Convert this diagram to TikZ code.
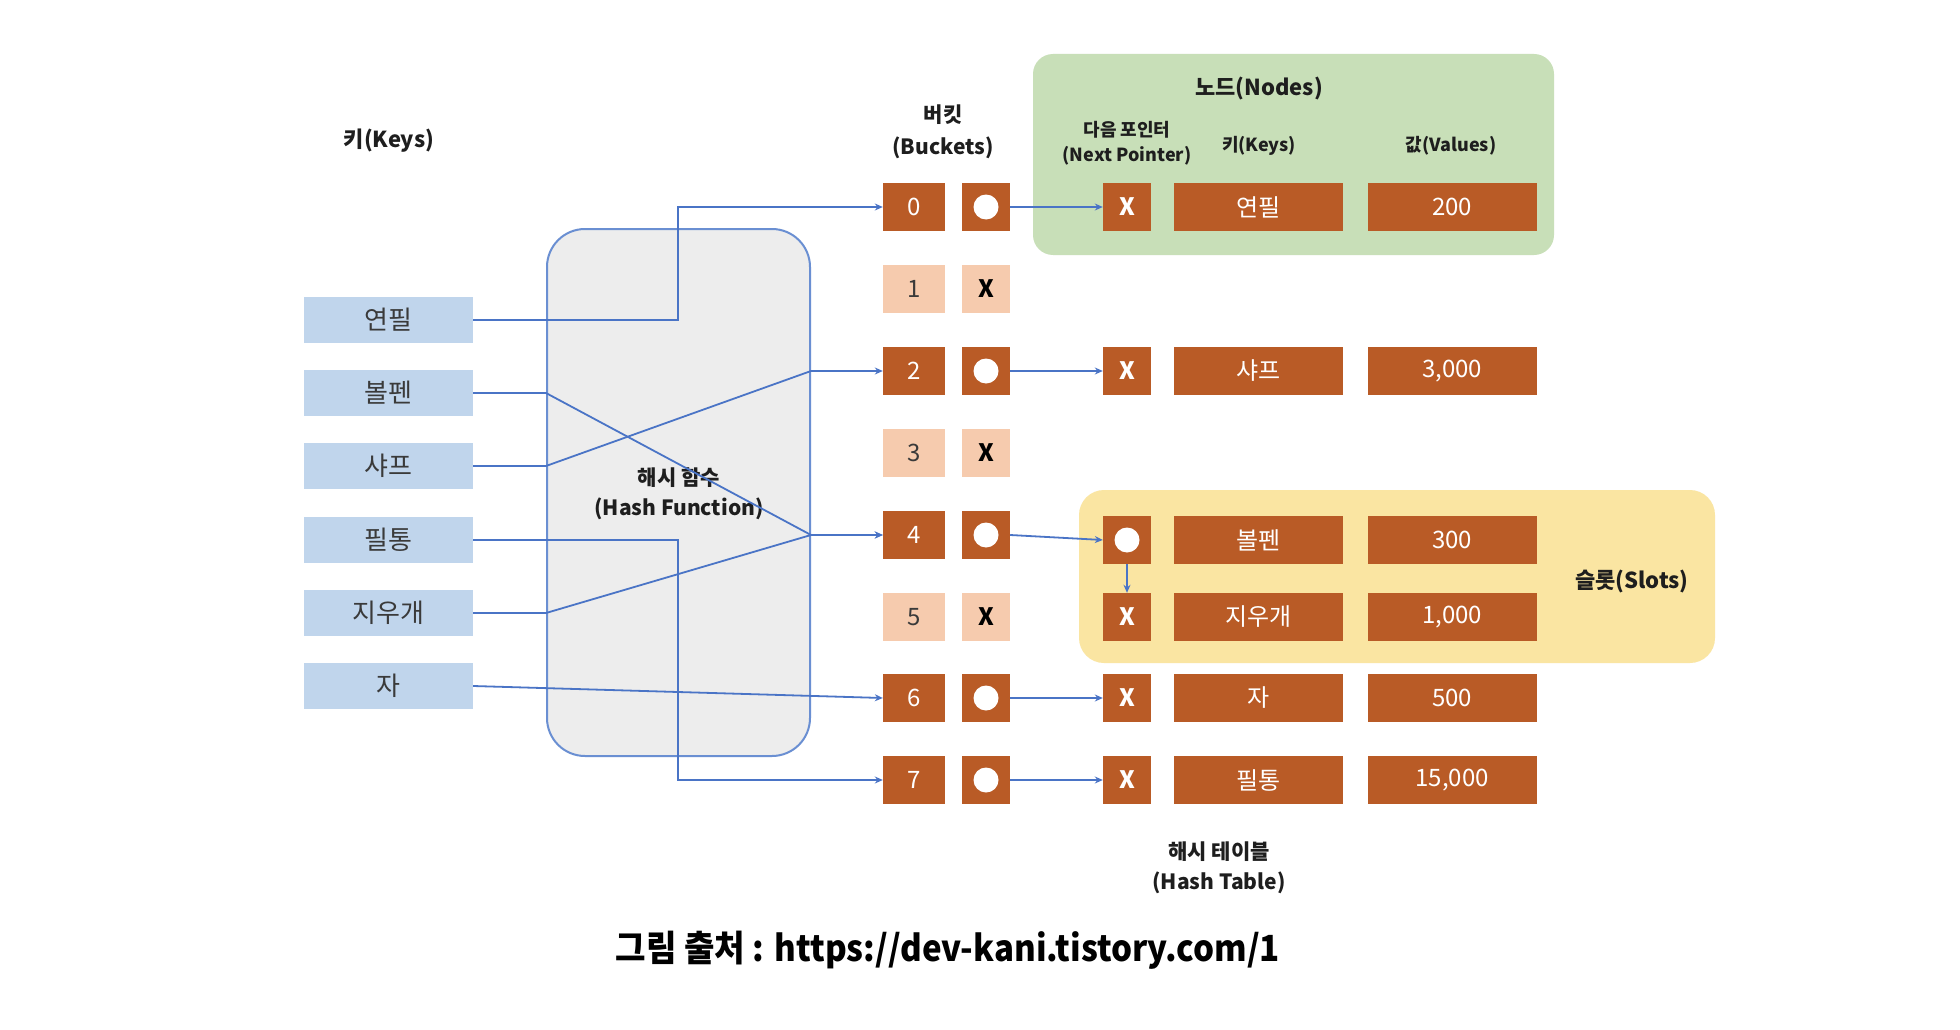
\documentclass[tikz,border=0pt]{standalone}
\usepackage{fontspec}
\setmainfont{Noto Sans CJK KR}
\usetikzlibrary{arrows.meta}
\definecolor{keyblue}{HTML}{C0D5EC}
\definecolor{keytext}{HTML}{3A3A3A}
\definecolor{darkor}{HTML}{B95B26}
\definecolor{lightor}{HTML}{F6CBAE}
\definecolor{nodegreen}{HTML}{C8DFB8}
\definecolor{slotyellow}{HTML}{FAE5A2}
\definecolor{hashgray}{HTML}{EDEDED}
\definecolor{hashblue}{HTML}{6A8FD2}
\definecolor{lineblue}{HTML}{4A74C6}
\definecolor{labeltext}{HTML}{1E1E1E}
\begin{document}
\begin{tikzpicture}[x=1pt,y=-1pt,
  keybox/.style={fill=keyblue, minimum width=169pt, minimum height=46pt, inner sep=0pt, text=keytext, font=\fontsize{26}{30}\selectfont},
  darkbox/.style={fill=darkor, minimum height=48pt, inner sep=0pt, text=white, font=\fontsize{24}{28}\selectfont},
  lightbox/.style={fill=lightor, minimum height=48pt, inner sep=0pt, text=keytext, font=\fontsize{24}{28}\selectfont},
  idxwd/.style={minimum width=62pt},
  ptrwd/.style={minimum width=48pt},
  widebox/.style={minimum width=169pt},
  xmark/.style={font=\bfseries\fontsize{24}{28}\selectfont},
  dotbox/.style={darkbox, ptrwd, path picture={\fill[white] (path picture bounding box.center) circle (12.5pt);}},
  title/.style={text=labeltext, font=\bfseries\fontsize{22}{26}\selectfont, align=center, inner sep=0pt},
  smalltitle/.style={text=labeltext, font=\bfseries\fontsize{18}{25}\selectfont, align=center, inner sep=0pt},
  conn/.style={draw=lineblue, line width=1.8pt, -{Stealth[length=8pt,width=7pt]}}
]
\useasboundingbox (0,0) rectangle (1960,1030);
\fill[white] (0,0) rectangle (1960,1030);

% regions
\node[fill=nodegreen, rounded corners=20pt, minimum width=521pt, minimum height=201pt, inner sep=0pt] (greenreg) at (1293.5,154.5) {};
\node[fill=slotyellow, rounded corners=25pt, minimum width=636pt, minimum height=173pt, inner sep=0pt] (yellowreg) at (1397,576.5) {};

% hash function
\node[draw=hashblue, fill=hashgray, line width=2pt, rounded corners=38pt, minimum width=263pt, minimum height=527pt, inner sep=0pt] (hf) at (678.5,492.5) {};
\node[title, font=\bfseries\fontsize{21}{30}\selectfont] (hflabel) at (679,494) {해시 함수\\(Hash Function)};

% titles
\node[title] (keystitle) at (389,141) {키(Keys)};
\node[title, font=\bfseries\fontsize{21}{32}\selectfont] (buckettitle) at (943,132) {버킷\\(Buckets)};
\node[title] (nodestitle) at (1259,89) {노드(Nodes)};
\node[smalltitle] (nexttitle) at (1127,143) {다음 포인터\\(Next Pointer)};
\node[smalltitle] (nkeytitle) at (1259,146) {키(Keys)};
\node[smalltitle] (nvaltitle) at (1451,146) {값(Values)};
\node[title] (slottitle) at (1632,581) {슬롯(Slots)};
\node[title, font=\bfseries\fontsize{21}{30}\selectfont] (httitle) at (1219,868) {해시 테이블\\(Hash Table)};

% keys
\node[keybox] (k1) at (388.5,320) {연필};
\node[keybox] (k2) at (388.5,393) {볼펜};
\node[keybox] (k3) at (388.5,466) {샤프};
\node[keybox] (k4) at (388.5,540) {필통};
\node[keybox] (k5) at (388.5,613) {지우개};
\node[keybox] (k6) at (388.5,686) {자};

% buckets
\node[darkbox, idxwd] (b0) at (914,207) {0};
\node[lightbox, idxwd] (b1) at (914,289) {1};
\node[darkbox, idxwd] (b2) at (914,371) {2};
\node[lightbox, idxwd] (b3) at (914,453) {3};
\node[darkbox, idxwd] (b4) at (914,535) {4};
\node[lightbox, idxwd] (b5) at (914,617) {5};
\node[darkbox, idxwd] (b6) at (914,698) {6};
\node[darkbox, idxwd] (b7) at (914,780) {7};

\node[dotbox] (p0) at (986,207) {};
\node[lightbox, ptrwd, xmark, text=black] (p1) at (986,289) {X};
\node[dotbox] (p2) at (986,371) {};
\node[lightbox, ptrwd, xmark, text=black] (p3) at (986,453) {X};
\node[dotbox] (p4) at (986,535) {};
\node[lightbox, ptrwd, xmark, text=black] (p5) at (986,617) {X};
\node[dotbox] (p6) at (986,698) {};
\node[dotbox] (p7) at (986,780) {};

% nodes
\node[darkbox, ptrwd, xmark] (n0x) at (1127,207) {X};
\node[darkbox, widebox] (n0k) at (1258.5,207) {연필};
\node[darkbox, widebox] (n0v) at (1452,207) {200};

\node[darkbox, ptrwd, xmark] (n2x) at (1127,371) {X};
\node[darkbox, widebox] (n2k) at (1258.5,371) {샤프};
\node[darkbox, widebox] (n2v) at (1452,371) {3,000};

\node[dotbox] (s1x) at (1127,540) {};
\node[darkbox, widebox] (s1k) at (1258.5,540) {볼펜};
\node[darkbox, widebox] (s1v) at (1452,540) {300};

\node[darkbox, ptrwd, xmark] (s2x) at (1127,617) {X};
\node[darkbox, widebox] (s2k) at (1258.5,617) {지우개};
\node[darkbox, widebox] (s2v) at (1452,617) {1,000};

\node[darkbox, ptrwd, xmark] (n6x) at (1127,698) {X};
\node[darkbox, widebox] (n6k) at (1258.5,698) {자};
\node[darkbox, widebox] (n6v) at (1452,698) {500};

\node[darkbox, ptrwd, xmark] (n7x) at (1127,780) {X};
\node[darkbox, widebox] (n7k) at (1258.5,780) {필통};
\node[darkbox, widebox] (n7v) at (1452,780) {15,000};

% hash connectors
\coordinate (m2) at (hf.east |- b2.west);
\coordinate (m4) at (hf.east |- b4.west);
\draw[conn] (k1.east) -- ++(205,0) |- (b0.west);
\draw[conn] (k2.east) -- (hf.west |- k2.east) -- (m4) -- (b4.west);
\draw[conn] (k3.east) -- (hf.west |- k3.east) -- (m2) -- (b2.west);
\draw[conn] (k4.east) -- ++(205,0) |- (b7.west);
\draw[conn] (k5.east) -- (hf.west |- k5.east) -- (m4) -- (b4.west);
\draw[conn] (k6.east) -- (b6.west);

% pointer connectors
\draw[conn] (p0.east) -- (n0x.west);
\draw[conn] (p2.east) -- (n2x.west);
\draw[conn] (p4.east) -- (s1x.west);
\draw[conn] (p6.east) -- (n6x.west);
\draw[conn] (p7.east) -- (n7x.west);
\draw[conn] (s1x.south) -- (s2x.north);

% caption
\node[text=black, font=\bfseries\fontsize{36}{40}\selectfont, inner sep=0pt] (caption) at (948,950) {\scalebox{0.92}[1]{그림 출처 : https://dev-kani.tistory.com/1}};
\end{tikzpicture}
\end{document}
